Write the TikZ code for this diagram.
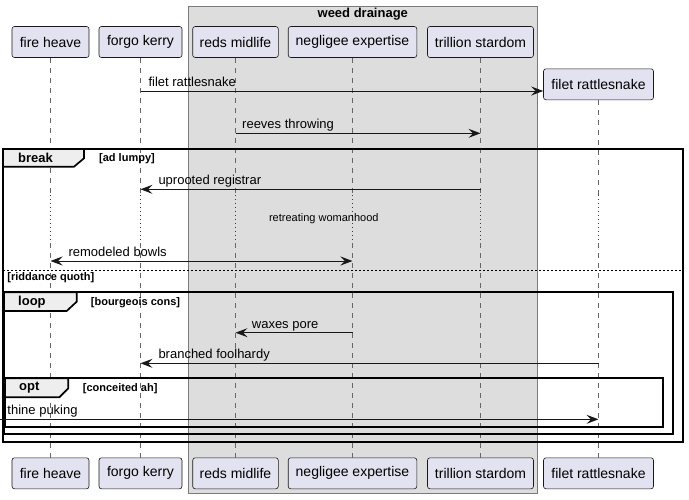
\documentclass[tikz,border=0pt]{standalone}
\usepackage{fontspec}
\setmainfont{Liberation Sans}
\usetikzlibrary{arrows.meta}
\definecolor{partfill}{HTML}{E2E2F0}
\definecolor{partline}{HTML}{181818}
\definecolor{boxfill}{HTML}{DDDDDD}
\definecolor{boxline}{HTML}{7A7A7A}
\definecolor{tabfill}{HTML}{EEEEEE}
\definecolor{delaycol}{HTML}{A80036}
\definecolor{lifecol}{HTML}{666666}
\definecolor{msgcol}{HTML}{181818}
\begin{document}
\begin{tikzpicture}[x=1pt,y=-1pt,
  part/.style={draw=partline, fill=partfill, line width=0.6pt, rounded corners=2.5pt,
    minimum height=31pt, inner sep=0pt, font=\fontsize{14}{16}\selectfont},
  life/.style={draw=lifecol, line width=0.7pt, dash pattern=on 5pt off 5pt},
  delayline/.style={draw=delaycol, line width=1.2pt, dash pattern=on 1.2pt off 2.8pt},
  tip/.tip={Stealth[length=12pt,width=9pt,inset=4.5pt]},
  msg/.style={draw=msgcol, line width=1pt, -tip},
  msgboth/.style={draw=msgcol, line width=1pt, tip-tip},
  msgtxt/.style={anchor=base west, font=\fontsize{13}{15}\selectfont, inner sep=0pt},
  frame/.style={draw=black, line width=1.7pt},
  tab/.style={draw=black, fill=tabfill, line width=1.7pt},
  tablbl/.style={anchor=west, font=\bfseries\fontsize{13}{15}\selectfont, inner sep=0pt},
  guard/.style={anchor=west, font=\bfseries\fontsize{11}{13}\selectfont, inner sep=0pt},
]
\useasboundingbox (0,0) rectangle (689,499);

% box
\draw[fill=boxfill, draw=boxline, line width=1pt] (188.3,6) rectangle (537.3,493.3);
\node[font=\bfseries\fontsize{13}{15}\selectfont, inner sep=0pt] (boxtitle) at (362.8,14.5) {weed drainage};

% participants
\node[part, minimum width=77pt]    (T-fh) at (50.5,42) {fire heave};
\node[part, minimum width=83pt]    (T-fk) at (140.5,42) {forgo kerry};
\node[part, minimum width=85.6pt]  (T-rm) at (235.5,42) {reds midlife};
\node[part, minimum width=128.6pt] (T-ne) at (352.5,42) {negligee expertise};
\node[part, minimum width=106pt]   (T-ts) at (480.5,42) {trillion stardom};
\node[part, minimum width=110pt]   (T-fr) at (598.5,84.3) {filet rattlesnake};

\node[part, minimum width=77pt]    (B-fh) at (50.5,473.3) {fire heave};
\node[part, minimum width=83pt]    (B-fk) at (140.5,473.3) {forgo kerry};
\node[part, minimum width=85.6pt]  (B-rm) at (235.5,473.3) {reds midlife};
\node[part, minimum width=128.6pt] (B-ne) at (352.5,473.3) {negligee expertise};
\node[part, minimum width=106pt]   (B-ts) at (480.5,473.3) {trillion stardom};
\node[part, minimum width=110pt]   (B-fr) at (598.5,473.3) {filet rattlesnake};

% levels
\coordinate (d1) at (0,195);
\coordinate (d2) at (0,243);
\coordinate (m1) at (0,91);
\coordinate (m2) at (0,133.3);
\coordinate (m3) at (0,189.3);
\coordinate (m4) at (0,261);
\coordinate (m5) at (0,332.7);
\coordinate (m6) at (0,363.3);
\coordinate (m7) at (0,419.3);
\coordinate (ext) at (0,419.3);

% lifelines
\foreach \p in {fh,fk,rm,ne,ts,fr}{
  \draw[life] (T-\p.south) -- (T-\p.south |- d1);
  \draw[delayline] (T-\p.south |- d1) -- (T-\p.south |- d2);
  \draw[life] (T-\p.south |- d2) -- (B-\p.north);
}

% frames
\draw[frame] (3,149) rectangle (683.3,441.7);
\draw[draw=black, line width=0.9pt, dash pattern=on 2pt off 2pt] (3,270) -- (683.3,270);
\draw[frame] (4,292.3) rectangle (673.3,434.3);
\draw[frame] (5,378.3) rectangle (663.3,426.7);

% tabs
\draw[tab] (3,149) -- (84,149) -- (84,158.3) -- (74,166.7) -- (3,166.7) -- cycle;
\node[tablbl] (lbreak) at (18,158) {break};
\node[guard] (gbreak) at (99,158.3) {[ad lumpy]};
\node[guard] (gelse) at (7.3,277.3) {[riddance quoth]};

\draw[tab] (4,292.3) -- (76.7,292.3) -- (76.7,301.7) -- (66.7,311) -- (4,311) -- cycle;
\node[tablbl] (lloop) at (18,301.8) {loop};
\node[guard] (gloop) at (90.7,302.7) {[bourgeois cons]};

\draw[tab] (5,378.3) -- (68.3,378.3) -- (68.3,388.3) -- (59.3,397.3) -- (5,397.3) -- cycle;
\node[tablbl] (lopt) at (19,388) {opt};
\node[guard] (gopt) at (82.7,388.3) {[conceited ah]};

% messages
\draw[msg] (T-fk |- m1) -- (T-fr.west |- m1);
\node[msgtxt] (t1) at (148.3,86.5) {filet rattlesnake};

\draw[msg] (T-rm |- m2) -- (T-ts |- m2);
\node[msgtxt] (t2) at (242,128.8) {reeves throwing};

\draw[msg] (T-ts |- m3) -- (T-fk |- m3);
\node[msgtxt] (t3) at (158.3,184.8) {uprooted registrar};

\node[font=\fontsize{11}{13}\selectfont, inner sep=0pt] (delaytxt) at (323.8,218.5) {retreating womanhood};

\draw[msgboth] (T-fh |- m4) -- (T-ne |- m4);
\node[msgtxt] (t4) at (68.3,256.5) {remodeled bowls};

\draw[msg] (T-ne |- m5) -- (T-rm |- m5);
\node[msgtxt] (t5) at (251.7,328.2) {waxes pore};

\draw[msg] (T-fr |- m6) -- (T-fk |- m6);
\node[msgtxt] (t6) at (158.3,358.8) {branched foolhardy};

\draw[msg] (ext) -- (T-fr |- m7);
\node[msgtxt] (t7) at (7.3,414.8) {thine puking};
\end{tikzpicture}
\end{document}
